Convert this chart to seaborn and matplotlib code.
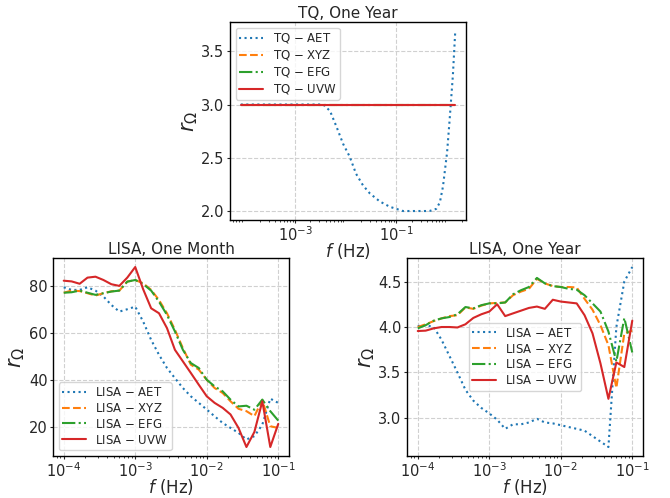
import matplotlib
matplotlib.use("Agg")
import matplotlib.pyplot as plt
import seaborn as sns

# TQ, one year
tq_freq = [8.5e-5, 2e-4, 5e-4, 1e-3, 2e-3, 3.6e-3, 4.9e-3, 6.6e-3, 8.9e-3, 1.2e-2,
           1.6e-2, 2.2e-2, 3.0e-2, 4.7e-2, 7.4e-2, 0.135, 0.25, 0.45, 0.61, 0.72,
           0.83, 1.0, 1.12, 1.3, 1.45]
tq_aet = [3.0, 3.0, 3.0, 3.0, 3.0, 3.0, 2.94, 2.79, 2.63, 2.51,
          2.35, 2.24, 2.165, 2.09, 2.04, 2.0, 2.0, 2.0, 2.02, 2.08,
          2.23, 2.55, 2.85, 3.27, 3.69]
tq_xyz = [3.0] * len(tq_freq)
tq_efg = [3.0] * len(tq_freq)
tq_uvw = [3.0] * len(tq_freq)

# LISA frequency grid (both LISA panels)
lisa_freq = [1.0e-4, 1.29e-4, 1.67e-4, 2.15e-4, 2.78e-4, 3.59e-4, 4.64e-4, 5.99e-4, 7.74e-4,
             1.0e-3, 1.29e-3, 1.67e-3, 2.15e-3, 2.78e-3, 3.59e-3, 4.64e-3, 5.99e-3, 7.74e-3,
             1.0e-2, 1.29e-2, 1.67e-2, 2.15e-2, 2.78e-2, 3.59e-2, 4.64e-2, 5.99e-2, 7.74e-2,
             1.0e-1]

# LISA, one month
month_aet = [79.3, 78.2, 78.2, 79.3, 77.9, 75.4, 71.8, 69.0, 70.0,
             71.1, 64.8, 57.0, 50.7, 45.1, 40.8, 36.6, 33.1, 30.3,
             27.5, 24.6, 21.8, 19.7, 17.6, 14.8, 16.2, 21.1, 32.1, 30.3]
month_xyz = [77.0, 77.9, 77.7, 76.8, 75.8, 76.8, 77.6, 77.9, 81.7,
             82.4, 81.0, 78.2, 73.9, 68.3, 61.3, 53.5, 46.5, 44.4,
             40.1, 36.6, 34.5, 31.0, 27.8, 26.8, 24.7, 31.5, 20.4, 19.7]
month_efg = [77.0, 77.2, 77.9, 77.0, 76.1, 76.8, 77.5, 77.9, 81.7,
             82.4, 80.7, 77.9, 73.2, 67.6, 60.6, 52.8, 47.2, 45.1,
             40.1, 37.3, 35.2, 31.7, 28.8, 29.1, 27.4, 31.7, 26.8, 22.8]
month_uvw = [82.1, 81.8, 80.8, 83.4, 83.8, 82.4, 80.6, 79.9, 83.4,
             87.9, 78.5, 70.4, 68.3, 62.0, 52.8, 47.9, 43.0, 38.0,
             33.1, 30.3, 28.2, 25.4, 19.7, 11.6, 18.0, 31.0, 11.6, 21.4]

# LISA, one year
year_aet = [4.01, 4.02, 4.00, 3.86, 3.68, 3.50, 3.31, 3.19, 3.11,
            3.05, 2.98, 2.88, 2.93, 2.93, 2.95, 2.99, 2.95, 2.94,
            2.92, 2.90, 2.88, 2.86, 2.80, 2.74, 2.68, 4.00, 4.50, 4.66]
year_xyz = [4.00, 4.03, 4.065, 4.095, 4.12, 4.13, 4.215, 4.20, 4.235,
            4.26, 4.265, 4.27, 4.35, 4.39, 4.42, 4.53, 4.48, 4.45,
            4.44, 4.44, 4.435, 4.31, 4.19, 4.02, 3.80, 3.33, 3.93, 3.96]
year_efg = [3.985, 4.02, 4.07, 4.095, 4.11, 4.14, 4.22, 4.205, 4.24,
            4.26, 4.26, 4.27, 4.36, 4.405, 4.44, 4.54, 4.48, 4.45,
            4.44, 4.42, 4.41, 4.35, 4.26, 4.17, 3.95, 3.62, 4.10, 3.72]
year_uvw = [3.956, 3.96, 3.985, 4.00, 4.00, 3.995, 4.03, 4.10, 4.14,
            4.17, 4.25, 4.12, 4.15, 4.18, 4.21, 4.225, 4.20, 4.30,
            4.28, 4.27, 4.26, 4.13, 3.93, 3.60, 3.21, 3.61, 3.56, 4.07]

combos = ["AET", "XYZ", "EFG", "UVW"]
colors = ["#1f77b4", "#ff7f0e", "#2ca02c", "#d62728"]
styles = [":", "--", "-.", "-"]

sns.set_style("ticks")
plt.rcParams["font.family"] = ["DejaVu Sans"]
plt.rcParams["mathtext.fontset"] = "dejavusans"

fig = plt.figure(figsize=(6.7, 4.98), dpi=100)
ax_top = fig.add_axes([0.3433, 0.5582, 0.3522, 0.3976])
ax_bl = fig.add_axes([0.0791, 0.0843, 0.3522, 0.3976])
ax_br = fig.add_axes([0.6075, 0.0843, 0.3522, 0.3976])

panels = [
    (ax_top, "TQ", tq_freq, [tq_aet, tq_xyz, tq_efg, tq_uvw], "TQ, One Year", "upper left"),
    (ax_bl, "LISA", lisa_freq, [month_aet, month_xyz, month_efg, month_uvw], "LISA, One Month", "lower left"),
    (ax_br, "LISA", lisa_freq, [year_aet, year_xyz, year_efg, year_uvw], "LISA, One Year", "center"),
]

for ax, det, freq, series, title, loc in panels:
    for name, vals, c, ls in zip(combos, series, colors, styles):
        sns.lineplot(x=freq, y=vals, ax=ax, color=c, linestyle=ls, linewidth=1.5,
                     label=f"{det} $-$ {name}")
    ax.set_xscale("log")
    ax.grid(True, which="major", linestyle="--", color="#d0d0d0", linewidth=0.8)
    ax.set_title(title, fontsize=11, pad=3)
    ax.set_xlabel("$f$ (Hz)", fontsize=12, labelpad=-2)
    ax.set_ylabel(r"$r_\Omega$", fontsize=15, labelpad=1)
    ax.tick_params(axis="both", which="major", labelsize=10.5, length=2.5, width=0.8)
    ax.tick_params(axis="both", which="minor", length=1.5, width=0.6)
    ax.tick_params(axis="x", which="major", pad=1)
    ax.tick_params(axis="y", which="major", pad=1.5)
    for sp in ax.spines.values():
        sp.set_color("black")
        sp.set_linewidth(1.0)
    ax.legend(loc=loc, fontsize=8.5, frameon=True, framealpha=0.8, edgecolor="#cccccc",
              labelspacing=0.25, borderpad=0.3, handletextpad=0.8)

ax_top.set_xticks([1e-3, 1e-1])
ax_top.set_yticks([2.0, 2.5, 3.0, 3.5])
ax_bl.set_xticks([1e-4, 1e-3, 1e-2, 1e-1])
ax_br.set_xticks([1e-4, 1e-3, 1e-2, 1e-1])
ax_bl.set_yticks([20, 40, 60, 80])
ax_br.set_yticks([3.0, 3.5, 4.0, 4.5])

fig.savefig("out.png", dpi=100)
